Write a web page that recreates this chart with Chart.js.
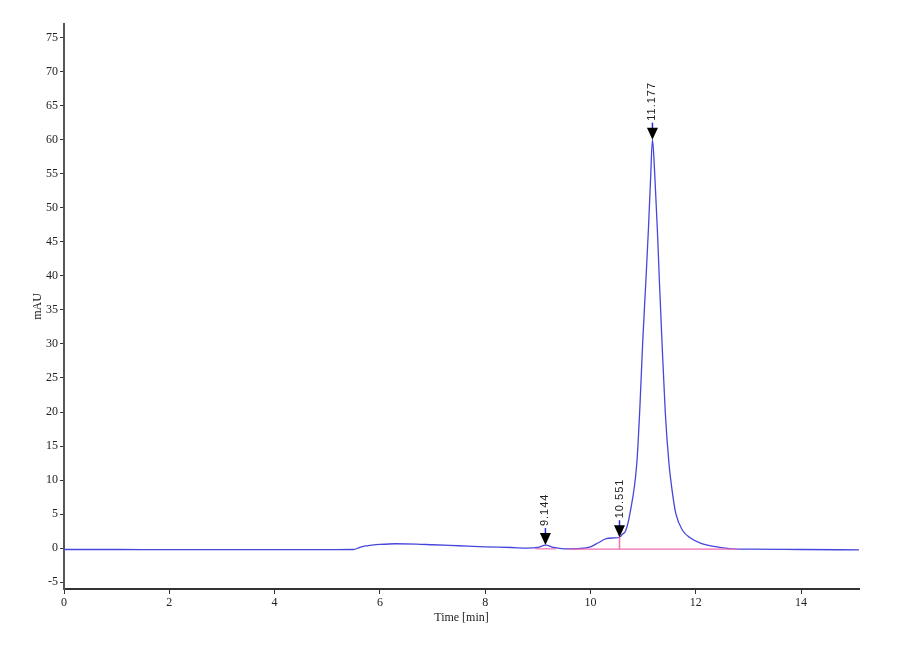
<!DOCTYPE html>
<html>
<head>
<meta charset="utf-8">
<script src="https://cdn.jsdelivr.net/npm/chart.js@4.4.0/dist/chart.umd.min.js"></script>
<style>
  body { margin: 0; background: #fff; }
  #wrap { width: 900px; height: 660px; }
</style>
</head>
<body>
<div id="wrap"><canvas id="chrom"></canvas></div>
<script>
// chromatogram trace
const times = [0, 1, 2, 3, 4, 5, 5.5, 5.6, 5.7, 5.85, 6.0, 6.3, 6.7, 7.0, 7.5, 8.0, 8.5, 8.8, 9.0, 9.144, 9.3, 9.5, 9.8,
  10.0, 10.15, 10.3, 10.45, 10.551, 10.6, 10.67, 10.75, 10.88, 10.94, 10.99, 11.05, 11.10, 11.14, 11.177,
  11.22, 11.27, 11.31, 11.36, 11.42, 11.49, 11.55, 11.62, 11.75, 11.9, 12.1, 12.4, 12.7, 13, 14, 15.1];
const signal = [-0.2, -0.2, -0.22, -0.22, -0.22, -0.22, -0.2, 0.05, 0.3, 0.45, 0.55, 0.65, 0.6, 0.5, 0.35, 0.2, 0.1, 0.0, 0.1, 0.45, 0.1, -0.1, -0.05,
  0.2, 0.8, 1.4, 1.5, 1.6, 2.0, 2.6, 5.1, 12.5, 21, 30, 39, 46.8, 54, 60,
  55, 46.8, 39, 30, 20, 12.5, 8.5, 5.1, 2.6, 1.5, 0.7, 0.2, -0.1, -0.15, -0.2, -0.25];

// integration baseline (pink)
const baseTimes = [8.95, 9.35, 9.58, 12.8];
const baseValues = [-0.1, -0.1, -0.15, -0.15];
const cutTime = 10.551;
const cutValues = [-0.15, 1.6];

// peak labels
const peakTimes = [9.144, 10.551, 11.177];
const peakHeights = [0.45, 1.6, 60];
const peakLabels = ['9.144', '10.551', '11.177'];

const xTicks = [0, 2, 4, 6, 8, 10, 12, 14];

const trace = times.map((t, i) => ({ x: t, y: signal[i] }));
const pink = 'rgb(240,110,180)';

const peakMarks = {
  id: 'peakMarks',
  afterDatasetsDraw(chart) {
    const ctx = chart.ctx;
    const xs = chart.scales.x, ys = chart.scales.y;
    peakTimes.forEach((t, i) => {
      const px = xs.getPixelForValue(t);
      const py = ys.getPixelForValue(peakHeights[i]);
      ctx.save();
      // stem
      ctx.strokeStyle = 'rgb(40,40,230)';
      ctx.lineWidth = 1.5;
      ctx.beginPath();
      ctx.moveTo(px, py - 11);
      ctx.lineTo(px, py - 17);
      ctx.stroke();
      // arrow head
      ctx.fillStyle = '#000';
      ctx.beginPath();
      ctx.moveTo(px, py);
      ctx.lineTo(px - 5.5, py - 12);
      ctx.lineTo(px + 5.5, py - 12);
      ctx.closePath();
      ctx.fill();
      // label
      ctx.translate(px, py - 19);
      ctx.rotate(-Math.PI / 2);
      ctx.fillStyle = '#222';
      ctx.font = '11px "Liberation Sans"';
      ctx.letterSpacing = '1px';
      ctx.textAlign = 'left';
      ctx.textBaseline = 'middle';
      ctx.fillText(peakLabels[i], 0, 0);
      ctx.restore();
    });
  }
};

new Chart(document.getElementById('chrom'), {
  type: 'scatter',
  data: {
    datasets: [
      {
        label: 'baseline',
        data: baseTimes.slice(0, 2).map((t, i) => ({ x: t, y: baseValues[i] })),
        showLine: true, borderColor: pink, borderWidth: 1.2, pointRadius: 0
      },
      {
        label: 'baseline2',
        data: baseTimes.slice(2).map((t, i) => ({ x: t, y: baseValues[i + 2] })),
        showLine: true, borderColor: pink, borderWidth: 1.2, pointRadius: 0
      },
      {
        label: 'cut',
        data: cutValues.map(v => ({ x: cutTime, y: v })),
        showLine: true, borderColor: pink, borderWidth: 1.5, pointRadius: 0
      },
      {
        label: 'signal',
        data: trace,
        showLine: true,
        borderColor: 'rgb(70,70,220)',
        borderWidth: 1.3,
        pointRadius: 0,
        cubicInterpolationMode: 'monotone'
      }
    ]
  },
  options: {
    responsive: true,
    maintainAspectRatio: false,
    animation: false,
    layout: { padding: { top: 24, right: 41, left: 27, bottom: 31 } },
    plugins: { legend: { display: false }, tooltip: { enabled: false } },
    scales: {
      x: {
        type: 'linear',
        min: 0,
        max: 15.1,
        afterFit(scale) { scale.height = 40; },
        afterBuildTicks(scale) { scale.ticks = xTicks.map(v => ({ value: v })); },
        border: { display: true, color: '#333', width: 2 },
        grid: { display: true, drawOnChartArea: false, drawTicks: true, tickLength: 5, color: '#333' },
        ticks: { color: '#222', font: { family: 'Liberation Serif', size: 12 }, padding: 2, maxRotation: 0 },
        title: { display: true, text: 'Time [min]', color: '#222', font: { family: 'Liberation Serif', size: 12 }, padding: { top: 0 } }
      },
      y: {
        type: 'linear',
        min: -6,
        max: 77,
        afterFit(scale) { scale.width = 37; },
        border: { display: true, color: '#555', width: 2 },
        grid: { display: true, drawOnChartArea: false, drawTicks: true, tickLength: 4, color: '#333' },
        ticks: { stepSize: 5, includeBounds: false, color: '#222', font: { family: 'Liberation Serif', size: 12 }, padding: 2 },
        title: { display: true, text: 'mAU', color: '#222', font: { family: 'Liberation Serif', size: 12 }, padding: { bottom: 0 } }
      }
    }
  },
  plugins: [peakMarks]
});
</script>
</body>
</html>
